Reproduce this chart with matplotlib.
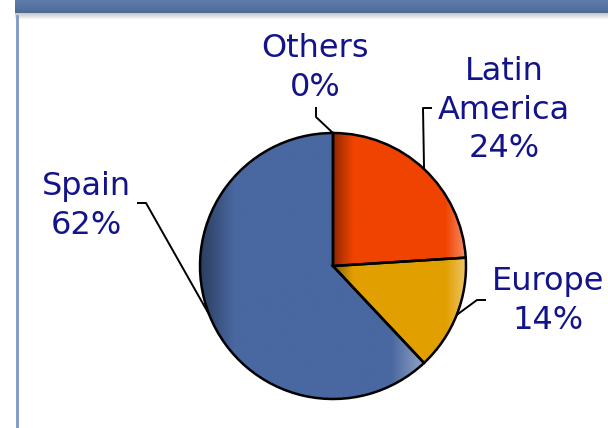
import numpy as np
import matplotlib
matplotlib.use("Agg")
import matplotlib.pyplot as plt
from matplotlib.colors import to_rgb

# Revenue breakdown by region
regions = ["Latin\nAmerica", "Europe", "Spain", "Others"]
shares = [24, 14, 62, 0]
colors = ["#F04302", "#E19F00", "#4967A0", "#6A9A3A"]

W, H = 608, 428
fig = plt.figure(figsize=(W / 100, H / 100), dpi=100)
ax = fig.add_axes([0, 0, 1, 1])

cx, cy, r = 333, H - 266, 133

wedges, _ = ax.pie(shares, colors=colors, startangle=90, counterclock=False,
                   radius=r, center=(cx, cy), frame=True,
                   wedgeprops=dict(edgecolor="black", linewidth=1.8))
ax.set_xlim(0, W)
ax.set_ylim(0, H)
ax.set_aspect("equal")
ax.axis("off")


def shade(base, n=256):
    """Horizontal bevel: dark on the left edge, light on the right edge."""
    c = np.array(to_rgb(base))
    t = np.linspace(0, 1, n)
    out = np.tile(c, (n, 1))
    dark = np.clip((0.15 - t) / 0.15, 0, 1)[:, None]
    light = np.clip((t - 0.85) / 0.15, 0, 1)[:, None]
    out = out * (1 - 0.4 * dark)
    out = out + (1 - out) * 0.4 * light
    return out[None, :, :]


for w, col in zip(wedges, colors):
    if w.theta2 - w.theta1 < 0.5:
        continue
    ext = w.get_path().get_extents(w.get_patch_transform())
    img = ax.imshow(shade(col), extent=(ext.x0, ext.x1, ext.y0, ext.y1),
                    aspect="auto", zorder=w.get_zorder() + 0.1,
                    interpolation="bilinear")
    img.set_clip_path(w)
    w.set_zorder(w.get_zorder() + 0.2)
    w.set_facecolor("none")

# Label text centre and elbow of each leader line (pixel layout, y from top)
label_pos = {
    "Latin\nAmerica": (504, 110),
    "Europe": (548, 301),
    "Spain": (86, 206),
    "Others": (315, 68),
}
elbows = {
    "Latin\nAmerica": [(432, 108), (423, 108)],
    "Europe": [(486, 300), (477, 300)],
    "Spain": [(137, 203), (146, 203)],
    "Others": [(316, 107), (316, 117)],
}

text_color = "#14148A"
for w, name, val in zip(wedges, regions, shares):
    mid = np.deg2rad((w.theta1 + w.theta2) / 2)
    ex, ey = cx + r * np.cos(mid), cy + r * np.sin(mid)
    pts = elbows[name]
    xs = [p[0] for p in pts] + [ex]
    ys = [H - p[1] for p in pts] + [ey]
    ax.plot(xs, ys, color="black", lw=1.4, zorder=5, solid_capstyle="butt")
    tx, ty = label_pos[name]
    ax.text(tx, H - ty, f"{name}\n{val}%", ha="center", va="center",
            fontsize=23, color=text_color, family="DejaVu Sans",
            linespacing=1.32, zorder=6)

# Banner strip at the top with a soft shadow
grad = np.linspace(0, 1, 20)[:, None]
band = np.array(to_rgb("#5E7DAE"))[None, None, :] * (1 - 0.15 * grad[:, :, None])
band = np.concatenate([band] * 2, axis=1)
ax.imshow(band, extent=(15, W, H - 13, H), aspect="auto", zorder=7)
shadow = np.ones((10, 2, 4))
shadow[..., :3] = 0.55
shadow[..., 3] = np.linspace(0.5, 0, 10)[:, None]
ax.imshow(shadow, extent=(15, W, H - 20, H - 13), aspect="auto", zorder=7)

# Left frame rule
ax.plot([17, 17], [0, H - 16], color="#7F97C6", lw=2, zorder=7)

ax.set_xlim(0, W)
ax.set_ylim(0, H)
fig.savefig("out.png", dpi=100)
